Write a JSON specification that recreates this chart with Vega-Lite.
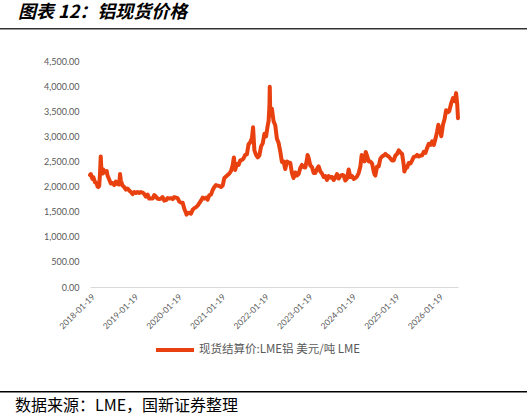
{
  "$schema": "https://vega.github.io/schema/vega-lite/v6.json",
  "background": "white",
  "padding": {"left": 0, "top": 4, "right": 0, "bottom": 2},
  "config": {"view": {"stroke": null}},
  "datasets": {
    "lme": [
      {"date": "2018-01-19", "price": 2230}, {"date": "2018-01-26", "price": 2250}, {"date": "2018-02-02", "price": 2190}, {"date": "2018-02-09", "price": 2150}, {"date": "2018-02-16", "price": 2190}, {"date": "2018-02-23", "price": 2140}, {"date": "2018-03-02", "price": 2080}, {"date": "2018-03-09", "price": 2080}, {"date": "2018-03-16", "price": 2060}, {"date": "2018-03-23", "price": 2000}, {"date": "2018-03-30", "price": 1990}, {"date": "2018-04-06", "price": 2010}, {"date": "2018-04-13", "price": 2260}, {"date": "2018-04-19", "price": 2600}, {"date": "2018-04-25", "price": 2320}, {"date": "2018-05-04", "price": 2260}, {"date": "2018-05-11", "price": 2340}, {"date": "2018-05-18", "price": 2280}, {"date": "2018-06-01", "price": 2300}, {"date": "2018-06-08", "price": 2310}, {"date": "2018-06-15", "price": 2220}, {"date": "2018-06-29", "price": 2140}, {"date": "2018-07-13", "price": 2060}, {"date": "2018-07-27", "price": 2070}, {"date": "2018-08-10", "price": 2030}, {"date": "2018-08-24", "price": 2100}, {"date": "2018-09-07", "price": 2050}, {"date": "2018-09-21", "price": 2040}, {"date": "2018-09-28", "price": 2250}, {"date": "2018-10-05", "price": 2120}, {"date": "2018-10-19", "price": 2020}, {"date": "2018-11-02", "price": 1990}, {"date": "2018-11-16", "price": 1940}, {"date": "2018-11-30", "price": 1960}, {"date": "2018-12-14", "price": 1920}, {"date": "2018-12-28", "price": 1890},
      {"date": "2019-01-11", "price": 1850}, {"date": "2019-01-25", "price": 1890}, {"date": "2019-02-08", "price": 1870}, {"date": "2019-02-22", "price": 1890}, {"date": "2019-03-08", "price": 1870}, {"date": "2019-03-22", "price": 1890}, {"date": "2019-04-05", "price": 1880}, {"date": "2019-04-19", "price": 1850}, {"date": "2019-05-03", "price": 1800}, {"date": "2019-05-17", "price": 1840}, {"date": "2019-05-31", "price": 1760}, {"date": "2019-06-14", "price": 1760}, {"date": "2019-06-28", "price": 1760}, {"date": "2019-07-12", "price": 1830}, {"date": "2019-07-26", "price": 1800}, {"date": "2019-08-09", "price": 1760}, {"date": "2019-08-23", "price": 1750}, {"date": "2019-09-06", "price": 1760}, {"date": "2019-09-20", "price": 1790}, {"date": "2019-10-04", "price": 1720}, {"date": "2019-10-18", "price": 1730}, {"date": "2019-11-01", "price": 1770}, {"date": "2019-11-15", "price": 1760}, {"date": "2019-11-29", "price": 1770}, {"date": "2019-12-13", "price": 1750}, {"date": "2019-12-27", "price": 1790},
      {"date": "2020-01-10", "price": 1780}, {"date": "2020-01-24", "price": 1770}, {"date": "2020-02-07", "price": 1700}, {"date": "2020-02-21", "price": 1680}, {"date": "2020-03-06", "price": 1680}, {"date": "2020-03-20", "price": 1560}, {"date": "2020-04-03", "price": 1480}, {"date": "2020-04-08", "price": 1440}, {"date": "2020-04-17", "price": 1470}, {"date": "2020-05-01", "price": 1480}, {"date": "2020-05-15", "price": 1460}, {"date": "2020-05-29", "price": 1540}, {"date": "2020-06-12", "price": 1570}, {"date": "2020-06-26", "price": 1590}, {"date": "2020-07-10", "price": 1620}, {"date": "2020-07-24", "price": 1670}, {"date": "2020-08-07", "price": 1720}, {"date": "2020-08-21", "price": 1780}, {"date": "2020-09-04", "price": 1760}, {"date": "2020-09-18", "price": 1780}, {"date": "2020-10-02", "price": 1740}, {"date": "2020-10-16", "price": 1830}, {"date": "2020-10-30", "price": 1840}, {"date": "2020-11-13", "price": 1930}, {"date": "2020-11-27", "price": 1990}, {"date": "2020-12-11", "price": 2030}, {"date": "2020-12-25", "price": 2020},
      {"date": "2021-01-08", "price": 2010}, {"date": "2021-01-22", "price": 1990}, {"date": "2021-02-05", "price": 2020}, {"date": "2021-02-19", "price": 2170}, {"date": "2021-03-05", "price": 2200}, {"date": "2021-03-19", "price": 2230}, {"date": "2021-04-02", "price": 2260}, {"date": "2021-04-16", "price": 2310}, {"date": "2021-04-30", "price": 2430}, {"date": "2021-05-10", "price": 2580}, {"date": "2021-05-21", "price": 2330}, {"date": "2021-06-04", "price": 2450}, {"date": "2021-06-18", "price": 2430}, {"date": "2021-07-02", "price": 2520}, {"date": "2021-07-16", "price": 2530}, {"date": "2021-07-30", "price": 2560}, {"date": "2021-08-13", "price": 2630}, {"date": "2021-08-27", "price": 2640}, {"date": "2021-09-10", "price": 2840}, {"date": "2021-09-24", "price": 2880}, {"date": "2021-10-08", "price": 2960}, {"date": "2021-10-18", "price": 3180}, {"date": "2021-10-29", "price": 2720}, {"date": "2021-11-12", "price": 2630}, {"date": "2021-11-26", "price": 2580}, {"date": "2021-12-10", "price": 2620}, {"date": "2021-12-24", "price": 2800},
      {"date": "2022-01-07", "price": 2860}, {"date": "2022-01-21", "price": 3050}, {"date": "2022-02-04", "price": 3000}, {"date": "2022-02-18", "price": 3220}, {"date": "2022-02-25", "price": 3300}, {"date": "2022-03-04", "price": 3590}, {"date": "2022-03-07", "price": 3985}, {"date": "2022-03-11", "price": 3480}, {"date": "2022-03-18", "price": 3450}, {"date": "2022-03-25", "price": 3550}, {"date": "2022-04-08", "price": 3300}, {"date": "2022-04-22", "price": 3220}, {"date": "2022-05-06", "price": 2950}, {"date": "2022-05-20", "price": 2870}, {"date": "2022-06-03", "price": 2700}, {"date": "2022-06-17", "price": 2490}, {"date": "2022-07-01", "price": 2500}, {"date": "2022-07-15", "price": 2350}, {"date": "2022-07-29", "price": 2500}, {"date": "2022-08-12", "price": 2480}, {"date": "2022-08-26", "price": 2470}, {"date": "2022-09-09", "price": 2270}, {"date": "2022-09-23", "price": 2170}, {"date": "2022-10-07", "price": 2280}, {"date": "2022-10-21", "price": 2220}, {"date": "2022-11-04", "price": 2250}, {"date": "2022-11-18", "price": 2370}, {"date": "2022-12-02", "price": 2430}, {"date": "2022-12-16", "price": 2390}, {"date": "2022-12-30", "price": 2380},
      {"date": "2023-01-13", "price": 2540}, {"date": "2023-01-18", "price": 2630}, {"date": "2023-01-27", "price": 2570}, {"date": "2023-02-10", "price": 2420}, {"date": "2023-02-24", "price": 2390}, {"date": "2023-03-10", "price": 2270}, {"date": "2023-03-24", "price": 2270}, {"date": "2023-04-07", "price": 2350}, {"date": "2023-04-21", "price": 2400}, {"date": "2023-05-05", "price": 2300}, {"date": "2023-05-19", "price": 2260}, {"date": "2023-06-02", "price": 2190}, {"date": "2023-06-16", "price": 2210}, {"date": "2023-06-30", "price": 2130}, {"date": "2023-07-14", "price": 2210}, {"date": "2023-07-28", "price": 2180}, {"date": "2023-08-11", "price": 2190}, {"date": "2023-08-25", "price": 2130}, {"date": "2023-09-08", "price": 2180}, {"date": "2023-09-22", "price": 2250}, {"date": "2023-10-06", "price": 2160}, {"date": "2023-10-20", "price": 2210}, {"date": "2023-11-03", "price": 2230}, {"date": "2023-11-17", "price": 2220}, {"date": "2023-12-01", "price": 2120}, {"date": "2023-12-15", "price": 2160}, {"date": "2023-12-29", "price": 2340},
      {"date": "2024-01-12", "price": 2190}, {"date": "2024-01-26", "price": 2210}, {"date": "2024-02-09", "price": 2150}, {"date": "2024-02-23", "price": 2170}, {"date": "2024-03-08", "price": 2200}, {"date": "2024-03-22", "price": 2270}, {"date": "2024-04-05", "price": 2400}, {"date": "2024-04-16", "price": 2630}, {"date": "2024-04-26", "price": 2550}, {"date": "2024-05-10", "price": 2500}, {"date": "2024-05-20", "price": 2690}, {"date": "2024-05-31", "price": 2610}, {"date": "2024-06-14", "price": 2500}, {"date": "2024-06-28", "price": 2500}, {"date": "2024-07-12", "price": 2460}, {"date": "2024-07-26", "price": 2300}, {"date": "2024-08-02", "price": 2240}, {"date": "2024-08-09", "price": 2220}, {"date": "2024-08-23", "price": 2400}, {"date": "2024-09-06", "price": 2400}, {"date": "2024-09-20", "price": 2560}, {"date": "2024-10-04", "price": 2600}, {"date": "2024-10-18", "price": 2620}, {"date": "2024-11-01", "price": 2650}, {"date": "2024-11-15", "price": 2620}, {"date": "2024-11-29", "price": 2600}, {"date": "2024-12-13", "price": 2560}, {"date": "2024-12-27", "price": 2520},
      {"date": "2025-01-10", "price": 2520}, {"date": "2025-01-24", "price": 2620}, {"date": "2025-02-07", "price": 2650}, {"date": "2025-02-21", "price": 2720}, {"date": "2025-03-07", "price": 2680}, {"date": "2025-03-21", "price": 2650}, {"date": "2025-04-04", "price": 2430}, {"date": "2025-04-09", "price": 2300}, {"date": "2025-04-18", "price": 2360}, {"date": "2025-05-02", "price": 2380}, {"date": "2025-05-16", "price": 2470}, {"date": "2025-05-30", "price": 2460}, {"date": "2025-06-13", "price": 2520}, {"date": "2025-06-27", "price": 2590}, {"date": "2025-07-11", "price": 2600}, {"date": "2025-07-25", "price": 2630}, {"date": "2025-08-08", "price": 2600}, {"date": "2025-08-22", "price": 2620}, {"date": "2025-09-05", "price": 2620}, {"date": "2025-09-19", "price": 2690}, {"date": "2025-10-03", "price": 2670}, {"date": "2025-10-17", "price": 2770}, {"date": "2025-10-31", "price": 2850}, {"date": "2025-11-14", "price": 2830}, {"date": "2025-11-28", "price": 2900}, {"date": "2025-12-12", "price": 2830}, {"date": "2025-12-26", "price": 2950},
      {"date": "2026-01-09", "price": 3100}, {"date": "2026-01-19", "price": 3230}, {"date": "2026-01-30", "price": 3150}, {"date": "2026-02-13", "price": 3000}, {"date": "2026-02-27", "price": 3230}, {"date": "2026-03-13", "price": 3350}, {"date": "2026-03-25", "price": 3520}, {"date": "2026-04-10", "price": 3480}, {"date": "2026-04-20", "price": 3500}, {"date": "2026-05-07", "price": 3660}, {"date": "2026-05-22", "price": 3760}, {"date": "2026-06-05", "price": 3700}, {"date": "2026-06-17", "price": 3860}, {"date": "2026-06-26", "price": 3650}, {"date": "2026-07-03", "price": 3360}
    ]
  },
  "spacing": 27,
  "resolve": {"legend": {"color": "independent"}},
  "vconcat": [
    {
      "width": 527, "height": 1.5,
      "view": {"fill": "#333333", "stroke": null},
      "data": {"values": []},
      "mark": "point",
      "title": {"text": "图表 12：铝现货价格", "orient": "top", "anchor": "start", "font": "Noto Sans CJK SC", "fontSize": 18, "fontWeight": "bold", "fontStyle": "italic", "color": "#000000", "dx": 18, "offset": 6}
    },
    {
      "spacing": 0,
      "resolve": {"legend": {"color": "independent"}},
      "hconcat": [
        {"width": 43, "height": 1, "data": {"values": []}, "mark": "point"},
        {
          "width": 368, "height": 226,
          "data": {"name": "lme"},
          "mark": {"type": "line", "strokeWidth": 4, "strokeJoin": "round", "strokeCap": "round"},
          "encoding": {
            "x": {
              "field": "date", "type": "temporal",
              "scale": {"type": "utc", "nice": false, "domain": [{"year": 2018, "month": 1, "date": 19, "utc": true}, {"year": 2026, "month": 7, "date": 3, "utc": true}]},
              "axis": {
                "title": null,
                "values": [
                  {"year": 2018, "month": 1, "date": 19, "utc": true}, {"year": 2019, "month": 1, "date": 19, "utc": true}, {"year": 2020, "month": 1, "date": 19, "utc": true}, {"year": 2021, "month": 1, "date": 19, "utc": true}, {"year": 2022, "month": 1, "date": 19, "utc": true}, {"year": 2023, "month": 1, "date": 19, "utc": true}, {"year": 2024, "month": 1, "date": 19, "utc": true}, {"year": 2025, "month": 1, "date": 19, "utc": true}, {"year": 2026, "month": 1, "date": 19, "utc": true}
                ],
                "labelExpr": "utcFormat(datum.value, '%Y-%m-%d')",
                "labelAngle": -45, "labelFont": "Lato", "labelFontSize": 8.5, "labelColor": "#595959",
                "labelPadding": 5, "labelOverlap": false, "labelFlush": false,
                "ticks": false, "grid": false, "domainColor": "#D9D9D9", "domainWidth": 1
              }
            },
            "y": {
              "field": "price", "type": "quantitative",
              "scale": {"domain": [0, 4500], "nice": false},
              "axis": {
                "title": null, "values": [0, 500, 1000, 1500, 2000, 2500, 3000, 3500, 4000, 4500],
                "format": ",.2f", "grid": false, "domain": false, "ticks": false,
                "labelFont": "Lato", "labelFontSize": 9, "labelColor": "#595959", "labelPadding": 11
              }
            },
            "color": {
              "datum": "现货结算价:LME铝 美元/吨 LME",
              "scale": {"range": ["#E9400F"]},
              "legend": {
                "title": null, "orient": "none", "legendX": 73, "legendY": 277, "padding": 6,
                "symbolType": "M-5,0H5", "symbolSize": 58, "symbolStrokeWidth": 4,
                "labelFont": "Noto Sans CJK SC", "labelFontSize": 11.5, "labelColor": "#595959",
                "labelOffset": 18, "labelLimit": 400
              }
            }
          }
        }
      ]
    },
    {
      "width": 527, "height": 1.5,
      "view": {"fill": "#000000", "stroke": null},
      "data": {"values": []},
      "mark": "point",
      "title": {"text": "数据来源：LME，国新证券整理", "orient": "bottom", "anchor": "start", "font": "Noto Sans CJK SC", "fontSize": 16, "fontWeight": "normal", "color": "#000000", "dx": 15, "offset": 5}
    }
  ]
}
